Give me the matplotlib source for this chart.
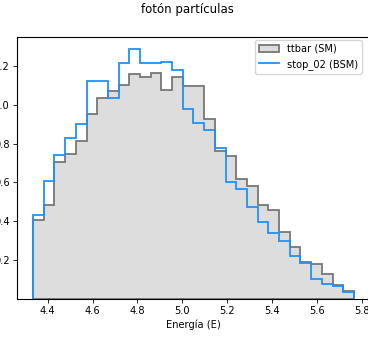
import numpy as np
import matplotlib
matplotlib.use("Agg")
import matplotlib.pyplot as plt
from matplotlib.lines import Line2D

# 30 equal-width bins of the photon energy variable
bin_lo, bin_hi, n_bins = 4.335, 5.765, 30
edges = np.linspace(bin_lo, bin_hi, n_bins + 1)
centers = 0.5 * (edges[:-1] + edges[1:])

# normalised bin contents (density)
ttbar_sm = [0.406, 0.482, 0.706, 0.749, 0.812, 0.955, 1.037, 1.073, 1.104, 1.160,
            1.145, 1.165, 1.075, 1.143, 1.095, 1.097, 0.929, 0.763, 0.735, 0.620,
            0.581, 0.482, 0.456, 0.343, 0.266, 0.192, 0.178, 0.127, 0.072, 0.043]
stop_bsm = [0.433, 0.608, 0.740, 0.831, 0.900, 1.122, 1.122, 1.037, 1.215, 1.285,
            1.215, 1.215, 1.220, 1.181, 0.977, 0.908, 0.870, 0.777, 0.600, 0.569,
            0.473, 0.397, 0.338, 0.300, 0.223, 0.187, 0.101, 0.076, 0.067, 0.038]

plt.rcParams.update({
    "font.family": "DejaVu Sans",
    "font.size": 7.1,
    "axes.linewidth": 0.8,
    "xtick.major.width": 0.6,
    "ytick.major.width": 0.6,
    "xtick.major.size": 2.6,
    "ytick.major.size": 2.6,
})

W, H = 368, 338
fig = plt.figure(figsize=(W / 100, H / 100), dpi=100)
ax = fig.add_axes([17 / W, 39 / H, 353 / W, 262 / H])

blue = "#2090f8"
_, _, sm_patches = ax.hist(centers, bins=edges, weights=ttbar_sm, histtype="stepfilled",
                           facecolor="#dddddd", edgecolor="#777777", linewidth=1.3)
ax.hist(centers, bins=edges, weights=stop_bsm, histtype="step",
        color=blue, linewidth=1.3)

ax.set_xticks([4.4, 4.6, 4.8, 5.0, 5.2, 5.4, 5.6, 5.8])
ax.set_yticks([0.2, 0.4, 0.6, 0.8, 1.0, 1.2])
ax.tick_params(labelsize=7.1, pad=2.5)
ax.set_xlabel("Energía (E)", fontsize=7.1, labelpad=2.5)

# the BSM curve is listed with a plain line handle
handles = [sm_patches[0], Line2D([], [], color=blue, linewidth=1.3)]
ax.legend(handles, ["ttbar (SM)", "stop_02 (BSM)"], loc="upper right",
          bbox_to_anchor=(0.985, 1.0), fontsize=7.1,
          borderaxespad=0.3, handlelength=2.0)

fig.text(0.51, 1 - 3 / H, "fotón partículas", ha="center", va="top", fontsize=8.5)

fig.savefig("out.png", dpi=100)
